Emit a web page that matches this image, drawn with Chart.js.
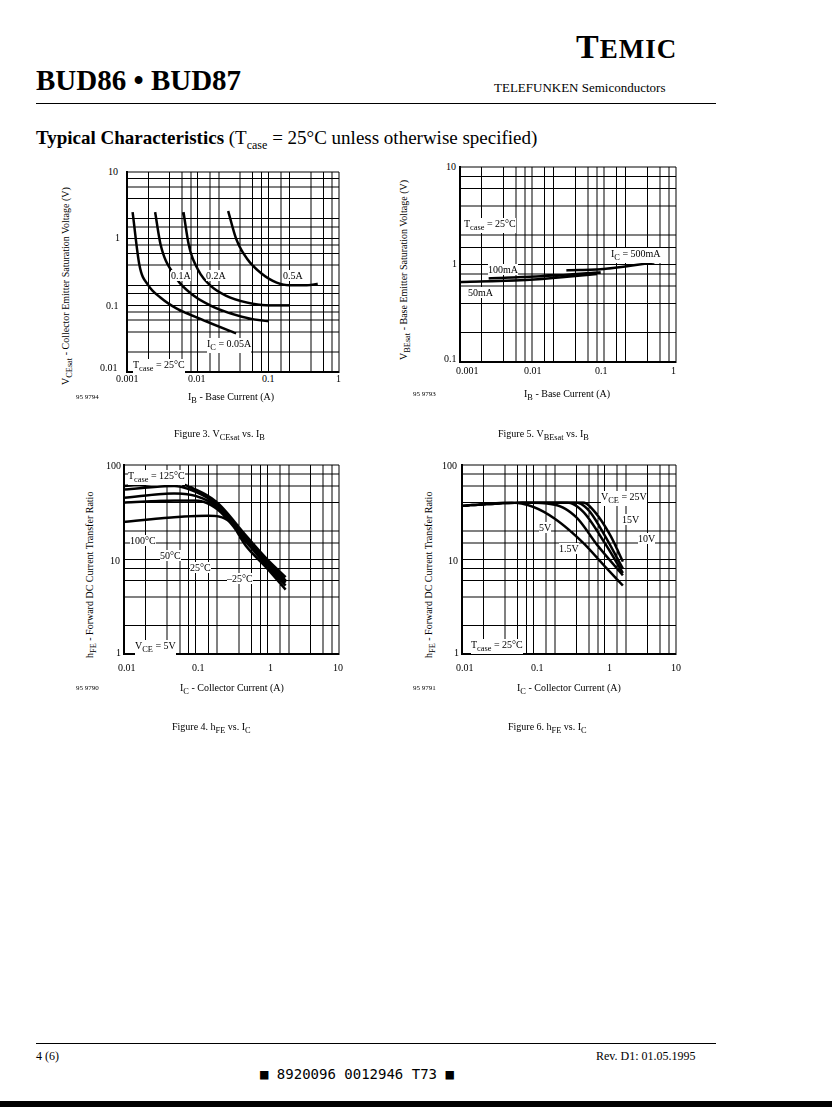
<!DOCTYPE html>
<html><head><meta charset="utf-8">
<script src="https://cdn.jsdelivr.net/npm/chart.js@4/dist/chart.umd.min.js"></script>
<style>
body{margin:0;width:832px;height:1107px;position:relative;background:#fff;font-family:"Liberation Serif",serif;color:#000;overflow:hidden}
.t{position:absolute;white-space:nowrap}
.s{font-size:10px}
.c{position:absolute}
.ylab{position:absolute;transform:rotate(-90deg);transform-origin:left top;font-size:10px;white-space:nowrap}
.lab{position:absolute;font-size:10px;background:#fff;white-space:nowrap;line-height:11px}
</style></head><body>
<div class="t" style="left:576px;top:28px;font-size:34px;font-weight:bold;letter-spacing:1px">T<span style="font-size:27px">EMIC</span></div>
<div class="t" style="left:36px;top:64px;font-size:29px;font-weight:bold">BUD86 • BUD87</div>
<div class="t" style="left:494px;top:80px;font-size:13px">TELEFUNKEN Semiconductors</div>
<div style="position:absolute;left:36px;top:103px;width:680px;border-top:1px solid #000"></div>
<div class="t" style="left:36px;top:127px;font-size:19px"><b>Typical Characteristics</b> (T<sub style="font-size:12px">case</sub> = 25°C unless otherwise specified)</div>

<!-- Fig 3 -->
<canvas id="c3" class="c" style="left:126px;top:171px"></canvas>
<div class="ylab" style="left:60px;top:385px">V<sub>CEsat</sub> - Collector Emitter Saturation Voltage (V)</div>
<div class="t s" style="left:108px;top:166px">10</div><div class="t s" style="left:115px;top:232px">1</div>
<div class="t s" style="left:106px;top:300px">0.1</div><div class="t s" style="left:100px;top:362px">0.01</div>
<div class="t s" style="left:116px;top:373px">0.001</div><div class="t s" style="left:188px;top:373px">0.01</div>
<div class="t s" style="left:262px;top:373px">0.1</div><div class="t s" style="left:336px;top:373px">1</div>
<div class="t" style="left:76px;top:393px;font-size:7px">95 9794</div>
<div class="t s" style="left:188px;top:391px">I<sub>B</sub> - Base Current (A)</div>
<div class="lab" style="left:171px;top:270px">0.1A</div><div class="lab" style="left:206px;top:270px">0.2A</div>
<div class="lab" style="left:283px;top:270px">0.5A</div><div class="lab" style="left:207px;top:338px">I<sub>C</sub> = 0.05A</div>
<div class="lab" style="left:133px;top:359px">T<sub>case</sub> = 25°C</div>
<div class="t s" style="left:174px;top:428px">Figure 3. V<sub>CEsat</sub> vs. I<sub>B</sub></div>

<!-- Fig 5 -->
<canvas id="c5" class="c" style="left:459px;top:166px"></canvas>
<div class="ylab" style="left:398px;top:360px">V<sub>BEsat</sub> - Base Emitter Saturation Voltage (V)</div>
<div class="t s" style="left:446px;top:161px">10</div><div class="t s" style="left:452px;top:258px">1</div>
<div class="t s" style="left:444px;top:353px">0.1</div>
<div class="t s" style="left:456px;top:365px">0.001</div><div class="t s" style="left:524px;top:365px">0.01</div>
<div class="t s" style="left:595px;top:365px">0.1</div><div class="t s" style="left:671px;top:365px">1</div>
<div class="t" style="left:413px;top:390px;font-size:7px">95 9793</div>
<div class="t s" style="left:524px;top:388px">I<sub>B</sub> - Base Current (A)</div>
<div class="lab" style="left:464px;top:218px">T<sub>case</sub> = 25°C</div>
<div class="lab" style="left:488px;top:264px">100mA</div><div class="lab" style="left:468px;top:287px">50mA</div>
<div class="lab" style="left:611px;top:248px">I<sub>C</sub> = 500mA</div>
<div class="t s" style="left:498px;top:428px">Figure 5. V<sub>BEsat</sub> vs. I<sub>B</sub></div>

<!-- Fig 4 -->
<canvas id="c4" class="c" style="left:123px;top:464px"></canvas>
<div class="ylab" style="left:84px;top:658px">h<sub>FE</sub> - Forward DC Current Transfer Ratio</div>
<div class="t s" style="left:106px;top:460px">100</div><div class="t s" style="left:110px;top:555px">10</div>
<div class="t s" style="left:116px;top:647px">1</div>
<div class="t s" style="left:118px;top:662px">0.01</div><div class="t s" style="left:192px;top:662px">0.1</div>
<div class="t s" style="left:268px;top:662px">1</div><div class="t s" style="left:333px;top:662px">10</div>
<div class="t" style="left:76px;top:684px;font-size:7px">95 9790</div>
<div class="t s" style="left:180px;top:682px">I<sub>C</sub> - Collector Current (A)</div>
<div class="lab" style="left:128px;top:470px">T<sub>case</sub> = 125°C</div>
<div class="lab" style="left:130px;top:535px">100°C</div><div class="lab" style="left:160px;top:550px">50°C</div>
<div class="lab" style="left:190px;top:562px">25°C</div><div class="lab" style="left:227px;top:573px">–25°C</div>
<div class="lab" style="left:135px;top:640px">V<sub>CE</sub> = 5V</div>
<div class="t s" style="left:172px;top:721px">Figure 4. h<sub>FE</sub> vs. I<sub>C</sub></div>

<!-- Fig 6 -->
<canvas id="c6" class="c" style="left:461px;top:464px"></canvas>
<div class="ylab" style="left:423px;top:658px">h<sub>FE</sub> - Forward DC Current Transfer Ratio</div>
<div class="t s" style="left:442px;top:460px">100</div><div class="t s" style="left:448px;top:555px">10</div>
<div class="t s" style="left:454px;top:647px">1</div>
<div class="t s" style="left:456px;top:662px">0.01</div><div class="t s" style="left:531px;top:662px">0.1</div>
<div class="t s" style="left:607px;top:662px">1</div><div class="t s" style="left:671px;top:662px">10</div>
<div class="t" style="left:413px;top:684px;font-size:7px">95 9791</div>
<div class="t s" style="left:517px;top:682px">I<sub>C</sub> - Collector Current (A)</div>
<div class="lab" style="left:601px;top:491px">V<sub>CE</sub> = 25V</div>
<div class="lab" style="left:622px;top:514px">15V</div><div class="lab" style="left:638px;top:533px">10V</div>
<div class="lab" style="left:539px;top:522px">5V</div><div class="lab" style="left:559px;top:543px">1.5V</div>
<div class="lab" style="left:471px;top:639px">T<sub>case</sub> = 25°C</div>
<div class="t s" style="left:508px;top:721px">Figure 6. h<sub>FE</sub> vs. I<sub>C</sub></div>

<div style="position:absolute;left:36px;top:1043px;width:680px;border-top:1px solid #000"></div>
<div class="t" style="left:36px;top:1049px;font-size:12px">4 (6)</div>
<div class="t" style="left:596px;top:1049px;font-size:12px">Rev. D1: 01.05.1995</div>
<div class="t" style="left:260px;top:1066px;font-size:14px;font-family:'DejaVu Sans Mono',monospace">■ 8920096 0012946 T73 ■</div>
<div style="position:absolute;left:0;top:1101px;width:832px;height:6px;background:#000"></div>

<script>
// Figure 3: VCEsat vs IB
const f3_ic005 = [[0.0012,2.5],[0.0015,0.4],[0.002,0.2],[0.003,0.13],[0.005,0.09],[0.01,0.065],[0.02,0.048],[0.035,0.038]];
const f3_ic01  = [[0.0025,2.5],[0.003,0.8],[0.0045,0.3],[0.007,0.17],[0.015,0.1],[0.03,0.075],[0.06,0.062],[0.1,0.058]];
const f3_ic02  = [[0.0063,2.5],[0.0075,0.8],[0.01,0.35],[0.015,0.2],[0.025,0.14],[0.05,0.11],[0.1,0.1],[0.2,0.1]];
const f3_ic05  = [[0.027,2.6],[0.035,1],[0.05,0.5],[0.08,0.3],[0.13,0.22],[0.2,0.2],[0.35,0.2],[0.5,0.21]];
// Figure 5: VBEsat vs IB
const f5_50  = [[0.001,0.66],[0.01,0.7],[0.08,0.8]];
const f5_100 = [[0.0025,0.72],[0.01,0.75],[0.09,0.83]];
const f5_500 = [[0.03,0.87],[0.1,0.9],[0.5,1.05]];
// Figure 4: hFE vs IC, temperatures
const f4_125 = [[0.01,60],[0.05,65],[0.1,55],[0.2,40],[0.5,18],[1,10],[1.8,6.5]];
const f4_100 = [[0.01,55],[0.05,60],[0.1,52],[0.2,38],[0.5,17],[1,9.5],[1.8,6]];
const f4_50  = [[0.01,45],[0.05,50],[0.1,47],[0.2,36],[0.5,16],[1,9],[1.8,5.7]];
const f4_25  = [[0.01,40],[0.05,42],[0.1,42],[0.2,34],[0.5,15.5],[1,8.5],[1.8,5.3]];
const f4_m25 = [[0.01,25],[0.05,28],[0.15,29],[0.3,25],[0.5,14],[1,8],[1.8,4.8]];
// Figure 6: hFE vs IC, VCE
const f6_15 = [[0.01,37],[0.05,40],[0.1,36],[0.2,27],[0.5,15],[1,8.5],[1.8,5.3]];
const f6_5  = [[0.01,37],[0.07,40],[0.2,38],[0.4,28],[0.8,14],[1.8,6.8]];
const f6_10 = [[0.01,37],[0.07,40],[0.3,40],[0.5,32],[1,15],[1.8,7.2]];
const f6_15v= [[0.01,37],[0.07,40],[0.4,40],[0.6,33],[1,18],[1.8,8]];
const f6_25 = [[0.01,37],[0.07,40],[0.5,40],[0.7,33],[1.2,18],[1.8,9.5]];
// grid lines kept per decade (mantissa)
const gridMantissas = [1, 2, 4, 6, 8];

function pts(a){ return a.map(p => ({x:p[0], y:p[1]})); }

function plot(id, w, h, series, xmin, xmax, ymin, ymax) {
    const cv = document.getElementById(id);
    cv.width = w; cv.height = h;
    cv.style.width = w + 'px'; cv.style.height = h + 'px';
    const axis = (min, max) => ({
        type: 'logarithmic', min: min, max: max,
        ticks: { display: false },
        grid: {
            drawTicks: false, lineWidth: 1,
            color: ctx => {
                const v = ctx.tick ? ctx.tick.value : 1;
                const m = Math.round(v / Math.pow(10, Math.floor(Math.log10(v) + 1e-9)));
                return gridMantissas.includes(m) ? '#000' : 'rgba(0,0,0,0)';
            }
        },
        border: { color: '#000', width: 2 }
    });
    new Chart(cv, {
        type: 'line',
        data: { datasets: series.map(s => ({
            data: pts(s), borderColor: '#000', borderWidth: 2.5,
            pointRadius: 0, cubicInterpolationMode: 'monotone', fill: false
        })) },
        options: {
            responsive: false, animation: false, devicePixelRatio: 2,
            layout: { padding: 1 },
            plugins: { legend: { display: false }, tooltip: { enabled: false } },
            scales: { x: axis(xmin, xmax), y: axis(ymin, ymax) }
        }
    });
}
plot('c3', 214, 202, [f3_ic005, f3_ic01, f3_ic02, f3_ic05], 0.001, 1, 0.01, 10);
plot('c5', 218, 197, [f5_50, f5_100, f5_500], 0.001, 1, 0.1, 10);
plot('c4', 217, 191, [f4_125, f4_100, f4_50, f4_25, f4_m25], 0.01, 10, 1, 100);
plot('c6', 216, 191, [f6_15, f6_5, f6_10, f6_15v, f6_25], 0.01, 10, 1, 100);
</script>
</body></html>
